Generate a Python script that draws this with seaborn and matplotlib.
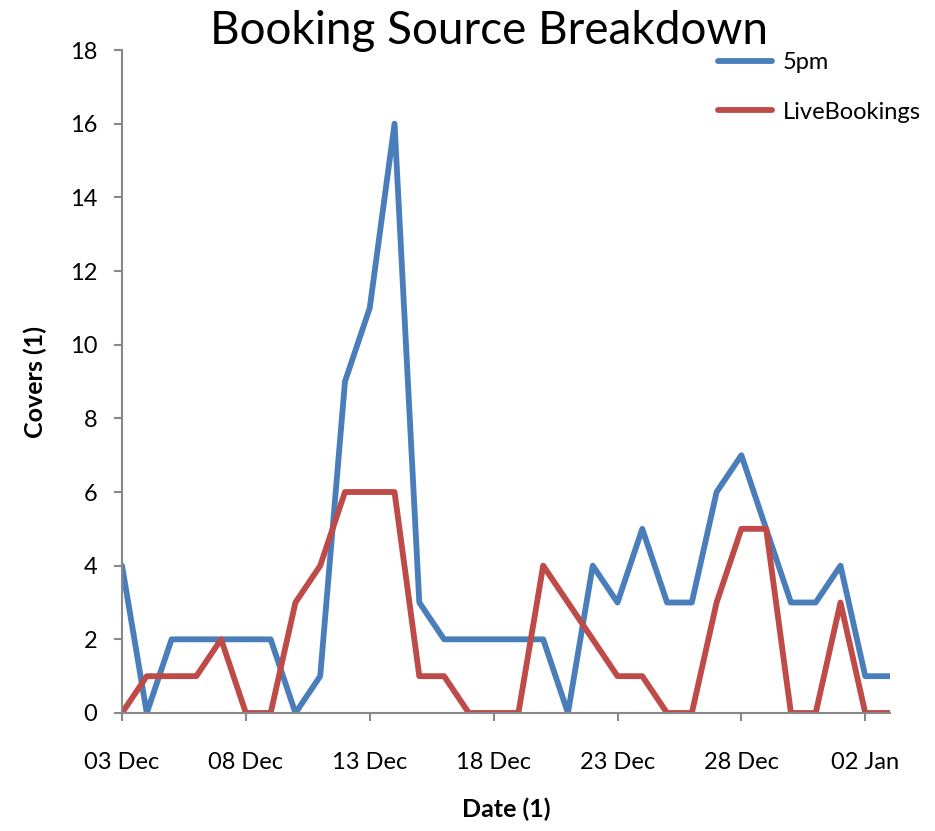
"""Booking source breakdown line chart."""

import matplotlib
matplotlib.use("Agg")
import matplotlib.dates as mdates
import matplotlib.pyplot as plt
import pandas as pd
import seaborn as sns

start_date = "2012-12-03"
n_days = 32
series_names = ["5pm", "LiveBookings"]
five_pm = [4, 0, 2, 2, 2, 2, 2, 0, 1, 9, 11, 16, 3, 2, 2, 2, 2, 2, 0, 4, 3, 5, 3, 3, 6, 7, 5, 3, 3, 4, 1, 1]
live_bookings = [0, 1, 1, 1, 2, 0, 0, 3, 4, 6, 6, 6, 1, 1, 0, 0, 0, 4, 3, 2, 1, 1, 0, 0, 3, 5, 5, 0, 0, 3, 0, 0]
line_colors = ["#4a7ebb", "#be4b48"]

dates = pd.date_range(start_date, periods=n_days, freq="D")
df = pd.concat([
    pd.DataFrame({"date": dates, "covers": five_pm, "source": series_names[0]}),
    pd.DataFrame({"date": dates, "covers": live_bookings, "source": series_names[1]}),
])

sns.set_theme(style="ticks")
plt.rcParams["font.family"] = ["Lato", "DejaVu Sans"]
plt.rcParams["text.color"] = "black"
plt.rcParams["xtick.labelcolor"] = "black"
plt.rcParams["ytick.labelcolor"] = "black"
plt.rcParams["axes.labelcolor"] = "black"

fig = plt.figure(figsize=(9.35, 8.31), dpi=100)
ax = fig.add_axes([0.1305, 0.142, 0.8214, 0.7978])
sns.lineplot(
    data=df, x="date", y="covers", hue="source",
    palette=line_colors, linewidth=4.2, ax=ax, legend=True,
)
for line in ax.lines:
    line.set_solid_joinstyle("round")
    line.set_solid_capstyle("round")

ax.set_xlim(dates[0], dates[-1])
ax.set_ylim(0, 18)
ax.set_yticks(range(0, 19, 2))
ax.set_xticks(dates[::5])
ax.xaxis.set_major_formatter(mdates.DateFormatter("%d %b"))

for side in ["top", "right"]:
    ax.spines[side].set_visible(False)
for side in ["left", "bottom"]:
    ax.spines[side].set_color("#888888")
    ax.spines[side].set_linewidth(1.5)
ax.tick_params(axis="y", length=6, width=1.5, color="#888888", pad=12, labelsize=17)
ax.tick_params(axis="x", length=6, width=1.5, color="#888888", pad=22, labelsize=17)

ax.set_xlabel("Date (1)", fontsize=18, fontweight="bold", labelpad=18)
ax.set_ylabel("Covers (1)", fontsize=18, fontweight="bold", labelpad=16)
fig.text(0.523, 0.988, "Booking Source Breakdown", fontsize=33, ha="center", va="top")

ax.legend(
    loc="upper left", bbox_to_anchor=(0.768, 0.937), bbox_transform=fig.transFigure,
    frameon=False, fontsize=17, handlelength=2.3, labelspacing=1.2, handletextpad=0.45,
    borderpad=0, borderaxespad=0,
)

fig.savefig("out.png", dpi=100)
